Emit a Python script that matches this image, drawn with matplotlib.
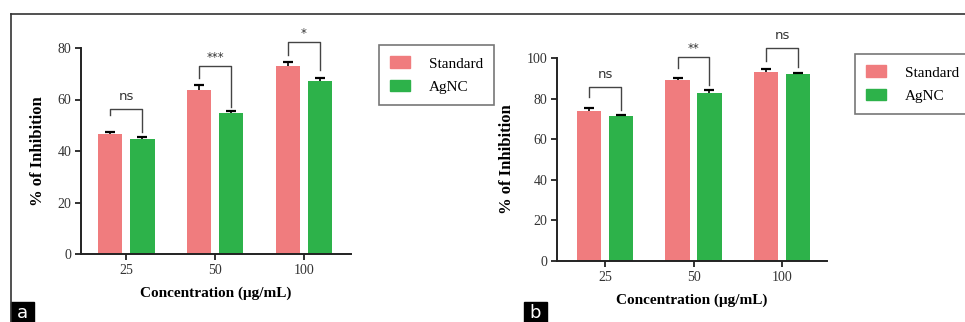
import numpy as np
import matplotlib.pyplot as plt
from matplotlib.patches import Patch, Rectangle
from matplotlib.lines import Line2D

W, H = 965, 322
SERIF = ['Liberation Serif', 'DejaVu Serif']
PINK = '#F07C7E'
GREEN = '#2DB24A'

concentrations = ['25', '50', '100']

# panel a
std_a = [46.5, 63.5, 73.0]
std_a_err = [1.0, 2.2, 1.4]
agnc_a = [44.7, 54.7, 67.0]
agnc_a_err = [0.6, 1.0, 1.4]
# bracket: (top, left leg end, right leg end, label)
brackets_a = [(56.3, 54.0, 47.3, 'ns'), (73.0, 68.5, 57.0, '***'), (82.3, 77.2, 71.5, '*')]

# panel b
std_b = [74.0, 89.0, 93.0]
std_b_err = [1.5, 1.3, 1.4]
agnc_b = [71.5, 83.0, 92.0]
agnc_b_err = [0.6, 1.3, 0.4]
brackets_b = [(85.7, 80.8, 74.4, 'ns'), (100.5, 95.0, 86.7, '**'), (105.0, 98.5, 95.6, 'ns')]


def px_axes(fig, x0, x1, y_top, y_bot):
    return fig.add_axes([x0 / W, (H - y_bot) / H, (x1 - x0) / W, (y_bot - y_top) / H])


def up_errorbar(ax, x, y, err):
    _, caps, _ = ax.errorbar(x, y, yerr=[np.zeros(len(err)), err], fmt='none',
                             ecolor='black', elinewidth=1.2, capsize=3.5,
                             capthick=1.6, zorder=3)
    caps[0].set_visible(False)


def draw_panel(ax, std, std_err, agnc, agnc_err, brackets, ymax, xlim):
    x = np.arange(len(concentrations))
    off, bw = 0.18, 0.28
    ax.bar(x - off, std, bw, color=PINK, zorder=2)
    ax.bar(x + off, agnc, bw, color=GREEN, zorder=2)
    up_errorbar(ax, x - off, std, std_err)
    up_errorbar(ax, x + off, agnc, agnc_err)
    for xi, (top, l_end, r_end, lab) in zip(x, brackets):
        ax.plot([xi - off, xi - off, xi + off, xi + off], [l_end, top, top, r_end],
                color='#444444', lw=1.0, clip_on=False, zorder=4)
        if lab == 'ns':
            ax.text(xi, top + ymax * 0.03, lab, ha='center', va='bottom',
                    fontsize=9.5, family='DejaVu Sans', color='#333333', clip_on=False)
        else:
            ax.text(xi, top + ymax * 0.01, lab, ha='center', va='bottom',
                    fontsize=8.5, family='DejaVu Sans', color='#333333', clip_on=False)
    ax.set_xlim(*xlim)
    ax.set_ylim(0, ymax)
    ax.set_xticks(x)
    ax.set_xticklabels(concentrations)
    ax.set_yticks(np.arange(0, ymax + 1, 20))
    for s in ['top', 'right']:
        ax.spines[s].set_visible(False)
    for s in ['left', 'bottom']:
        ax.spines[s].set_linewidth(1.4)
        ax.spines[s].set_color('#222222')
    ax.tick_params(axis='both', length=4, width=1.3, colors='#222222', pad=3)
    for t in ax.get_xticklabels() + ax.get_yticklabels():
        t.set_family(SERIF)
        t.set_fontsize(10)
        t.set_color('#333333')
    ax.set_ylabel('% of Inhibition', family=SERIF, fontweight='bold', fontsize=12, labelpad=8)
    ax.set_xlabel('Concentration (μg/mL)', family=SERIF, fontweight='bold', fontsize=11, labelpad=7)


fig = plt.figure(figsize=(W / 100, H / 100), dpi=100)

ax_a = px_axes(fig, 81, 351, 48, 254)
draw_panel(ax_a, std_a, std_a_err, agnc_a, agnc_a_err, brackets_a, 80, (-0.506, 2.528))

ax_b = px_axes(fig, 557, 827, 58, 261)
draw_panel(ax_b, std_b, std_b_err, agnc_b, agnc_b_err, brackets_b, 100, (-0.542, 2.508))

handles = [Patch(color=PINK, label='Standard'), Patch(color=GREEN, label='AgNC')]
for x0, y0 in [(379, 45), (855, 54)]:
    leg = fig.legend(handles=handles, loc='upper left',
                     bbox_to_anchor=(x0 / W, (H - y0) / H),
                     prop={'family': SERIF, 'size': 11}, frameon=True, fancybox=False,
                     handlelength=1.3, handleheight=0.8, handletextpad=1.2,
                     labelspacing=0.6, borderpad=0.75, borderaxespad=0)
    leg.get_frame().set_edgecolor('#555555')
    leg.get_frame().set_linewidth(1.2)

# outer frame
fig.add_artist(Line2D([11 / W, 1], [(H - 14) / H] * 2, color='#333333', lw=1.2))
fig.add_artist(Line2D([11 / W] * 2, [0, (H - 14) / H], color='#333333', lw=1.2))

# panel letters
for x0, lab in [(11, 'a'), (524, 'b')]:
    fig.add_artist(Rectangle((x0 / W, 0), 23 / W, 20 / H, transform=fig.transFigure,
                             color='black'))
    fig.text((x0 + 11.5) / W, 9 / H, lab, color='white', ha='center', va='center',
             fontsize=13, family='DejaVu Sans')

fig.savefig('out.png', dpi=100)
